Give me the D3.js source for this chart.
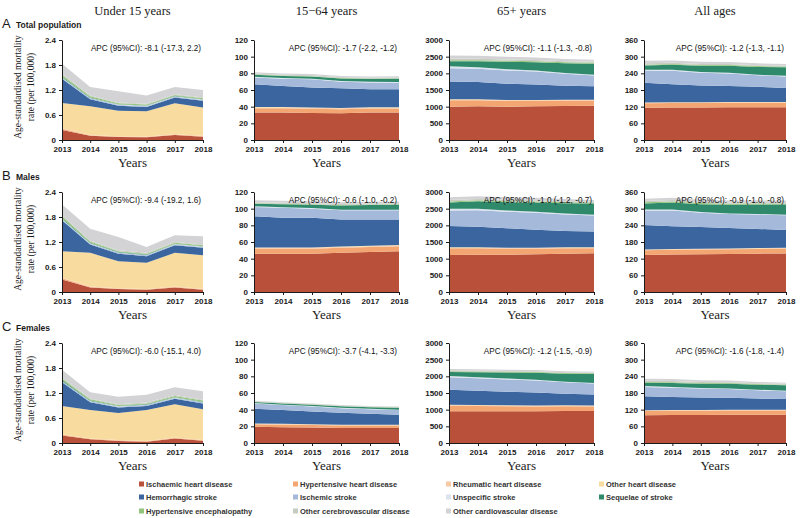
<!DOCTYPE html>
<html>
<head>
<meta charset="utf-8">
<script src="https://cdn.jsdelivr.net/npm/d3@7/dist/d3.min.js"></script>
<style>
    body { margin: 0; background: #fff; }
    svg { display: block; }
    .tick text { font-family: "Liberation Sans", Arial, sans-serif; font-weight: bold; font-size: 8px; fill: #1a1a1a; }
    .domain, .tick line { stroke: #1a1a1a; }
</style>
</head>
<body>
<div id="chart"></div>
<script>
// =============================================================================
// data
// =============================================================================
var years = [2013, 2014, 2015, 2016, 2017, 2018];

var categories = [
    "Ischaemic heart disease", "Hypertensive heart disease", "Rheumatic heart disease", "Other heart disease",
    "Hemorrhagic stroke", "Ischemic stroke", "Unspecific stroke", "Sequelae of stroke",
    "Hypertensive encephalopathy", "Other cerebrovascular disease", "Other cardiovascular disease"
];
var colors = [
    "#b8503a", "#f3a672", "#f7caa5", "#f8dc9f",
    "#3a659f", "#a5badb", "#dbe3ef", "#2f8a6c",
    "#93c47d", "#c6cdc0", "#d3d3d6"
];

var ageGroups = ["Under 15 years", "15\u221264 years", "65+ years", "All ages"];
var populations = ["Total population", "Males", "Females"];
var panelLetters = ["A", "B", "C"];

var yMax = [2.4, 120, 3000, 360];
var yTicks = [
    [0, 0.6, 1.2, 1.8, 2.4],
    [0, 20, 40, 60, 80, 100, 120],
    [0, 500, 1000, 1500, 2000, 2500, 3000],
    [0, 60, 120, 180, 240, 300, 360]
];

var apcLabels = [
    ["-8.1 (-17.3, 2.2)", "-1.7 (-2.2, -1.2)", "-1.1 (-1.3, -0.8)", "-1.2 (-1.3, -1.1)"],
    ["-9.4 (-19.2, 1.6)", "-0.6 (-1.0, -0.2)", "-1.0 (-1.2, -0.7)", "-0.9 (-1.0, -0.8)"],
    ["-6.0 (-15.1, 4.0)", "-3.7 (-4.1, -3.3)", "-1.2 (-1.5, -0.9)", "-1.6 (-1.8, -1.4)"]
];

// one array per category (same order as categories), values per year
var totalU15 = [
    [0.24, 0.10, 0.07, 0.065, 0.12, 0.08],
    [0.03, 0.01, 0.01, 0.01, 0.01, 0.01],
    [0.01, 0.01, 0.01, 0.01, 0.01, 0.01],
    [0.61, 0.69, 0.61, 0.605, 0.74, 0.68],
    [0.58, 0.17, 0.12, 0.10, 0.14, 0.16],
    [0.02, 0.02, 0.02, 0.02, 0.02, 0.02],
    [0.01, 0.01, 0.01, 0.01, 0.01, 0.01],
    [0.02, 0.01, 0.01, 0.01, 0.01, 0.01],
    [0.04, 0.03, 0.02, 0.02, 0.02, 0.02],
    [0.03, 0.02, 0.02, 0.02, 0.02, 0.02],
    [0.24, 0.20, 0.27, 0.20, 0.17, 0.18]
];
var total1564 = [
    [33, 33, 32.5, 32, 33, 33],
    [5, 5, 5, 5, 4.8, 4.8],
    [1, 1, 1, 1, 1, 1],
    [0.5, 0.5, 0.5, 0.5, 0.5, 0.5],
    [27.3, 25.3, 24, 23.5, 21.7, 21.5],
    [8.2, 8.8, 9.8, 8, 8, 8],
    [0.8, 0.8, 0.8, 0.8, 0.8, 0.8],
    [2.5, 2.5, 2.5, 3, 3.5, 4],
    [0.5, 0.5, 0.5, 0.5, 0.5, 0.5],
    [1, 1, 1, 1, 1, 1],
    [1.5, 1.5, 1.5, 1.5, 1.5, 1.5]
];
var total65 = [
    [1000, 1010, 1000, 1010, 1020, 1030],
    [190, 180, 170, 160, 160, 150],
    [20, 20, 20, 20, 20, 20],
    [10, 10, 10, 10, 10, 10],
    [538, 518, 488, 468, 418, 399],
    [397, 397, 397, 388, 358, 328],
    [60, 50, 40, 30, 25, 20],
    [150, 180, 220, 250, 290, 330],
    [30, 30, 30, 30, 30, 30],
    [50, 45, 40, 35, 32, 30],
    [90, 85, 80, 75, 70, 60]
];
var totalAll = [
    [116, 117, 117, 118, 118, 118],
    [16, 16, 16, 16, 16, 16],
    [2, 2, 2, 2, 2, 2],
    [1, 1, 1, 1, 1, 1],
    [71, 65, 60, 57, 55, 50],
    [42, 48, 46, 45, 41, 42],
    [5, 4, 3, 3, 2, 2],
    [15, 18, 22, 25, 28, 31],
    [3, 3, 3, 3, 3, 3],
    [5, 4, 4, 4, 3, 3],
    [9, 8, 8, 7, 7, 6]
];

var maleU15 = [
    [0.30, 0.11, 0.07, 0.055, 0.11, 0.055],
    [0.03, 0.01, 0.01, 0.01, 0.01, 0.01],
    [0.01, 0.01, 0.01, 0.01, 0.01, 0.01],
    [0.64, 0.81, 0.65, 0.625, 0.81, 0.805],
    [0.74, 0.20, 0.18, 0.16, 0.18, 0.18],
    [0.02, 0.02, 0.02, 0.02, 0.02, 0.02],
    [0.01, 0.01, 0.01, 0.01, 0.01, 0.01],
    [0.02, 0.01, 0.01, 0.01, 0.01, 0.01],
    [0.05, 0.03, 0.02, 0.02, 0.02, 0.02],
    [0.03, 0.02, 0.02, 0.02, 0.02, 0.02],
    [0.25, 0.29, 0.32, 0.14, 0.16, 0.20]
];
var male1564 = [
    [46, 46, 46, 47, 48, 49],
    [6, 6, 6, 6, 6, 6],
    [1, 1, 1, 1, 1, 1],
    [0.5, 0.5, 0.5, 0.5, 0.5, 0.5],
    [37.5, 35.5, 35.5, 32.5, 31.5, 30.5],
    [11, 12, 11, 11, 11, 11],
    [0.8, 0.8, 0.8, 0.8, 0.8, 0.8],
    [3, 3.5, 4, 5, 5.5, 6],
    [0.6, 0.6, 0.6, 0.6, 0.6, 0.6],
    [1.2, 1.2, 1.2, 1.2, 1.2, 1.2],
    [2.5, 2.5, 2.3, 2.2, 2.2, 2]
];
var male65 = [
    [1110, 1120, 1120, 1130, 1150, 1160],
    [200, 190, 180, 170, 160, 150],
    [20, 20, 20, 20, 20, 20],
    [10, 10, 10, 10, 10, 10],
    [640, 620, 581, 541, 492, 472],
    [466, 495, 495, 505, 495, 485],
    [50, 45, 40, 30, 25, 20],
    [190, 220, 250, 280, 310, 336],
    [30, 30, 30, 30, 30, 30],
    [45, 42, 40, 36, 33, 30],
    [80, 78, 75, 72, 65, 50]
];
var maleAll = [
    [133, 135, 136, 137, 138, 139],
    [17, 17, 17, 17, 17, 17],
    [2, 2, 2, 2, 2, 2],
    [1, 1, 1, 1, 1, 1],
    [88, 82, 78, 73, 69, 64],
    [52, 56, 51, 51, 52, 53],
    [4, 4, 3, 2, 2, 2],
    [22, 25, 28, 31, 34, 37],
    [4, 4, 4, 4, 4, 4],
    [5, 5, 5, 4, 4, 4],
    [8, 8, 7, 7, 7, 6]
];

var femaleU15 = [
    [0.18, 0.09, 0.05, 0.03, 0.11, 0.055],
    [0.02, 0.01, 0.01, 0.01, 0.01, 0.01],
    [0.01, 0.01, 0.01, 0.01, 0.01, 0.01],
    [0.68, 0.68, 0.65, 0.74, 0.80, 0.735],
    [0.57, 0.19, 0.13, 0.10, 0.13, 0.14],
    [0.02, 0.02, 0.02, 0.02, 0.02, 0.02],
    [0.01, 0.01, 0.01, 0.01, 0.01, 0.01],
    [0.02, 0.01, 0.01, 0.01, 0.01, 0.01],
    [0.04, 0.03, 0.02, 0.02, 0.03, 0.03],
    [0.03, 0.02, 0.02, 0.02, 0.02, 0.02],
    [0.18, 0.15, 0.18, 0.19, 0.19, 0.20]
];
var female1564 = [
    [19.5, 19, 18.5, 18, 18, 18],
    [3, 3, 3, 3, 3, 3],
    [0.7, 0.7, 0.7, 0.7, 0.7, 0.7],
    [0.3, 0.3, 0.3, 0.3, 0.3, 0.3],
    [17.5, 16.5, 15.4, 14.2, 13, 11.8],
    [6.5, 6, 6, 5.5, 5.5, 5.7],
    [0.5, 0.5, 0.5, 0.5, 0.5, 0.5],
    [1.2, 1.4, 1.6, 1.8, 2, 2.3],
    [0.3, 0.3, 0.3, 0.3, 0.3, 0.3],
    [0.5, 0.5, 0.5, 0.5, 0.5, 0.5],
    [0.7, 0.7, 0.7, 0.7, 0.7, 0.7]
];
var female65 = [
    [950, 950, 950, 950, 960, 960],
    [170, 160, 150, 145, 140, 135],
    [20, 20, 20, 20, 20, 20],
    [10, 10, 10, 10, 10, 10],
    [450, 430, 410, 390, 350, 330],
    [370, 370, 365, 360, 340, 330],
    [40, 35, 30, 25, 20, 15],
    [120, 150, 180, 210, 240, 270],
    [20, 20, 20, 20, 20, 20],
    [30, 28, 26, 24, 22, 20],
    [40, 38, 36, 34, 32, 30]
];
var femaleAll = [
    [100, 101, 101, 102, 102, 102],
    [15, 15, 15, 15, 15, 15],
    [2, 2, 2, 2, 2, 2],
    [1, 1, 1, 1, 1, 1],
    [50, 47, 45, 43, 40, 38],
    [34, 33, 32, 31, 30, 28],
    [3, 3, 2, 2, 2, 2],
    [12, 14, 15, 17, 18, 20],
    [3, 3, 3, 3, 2, 2],
    [4, 4, 4, 3, 3, 3],
    [7, 7, 6, 6, 5, 4]
];

var panelData = [
    [totalU15, total1564, total65, totalAll],
    [maleU15, male1564, male65, maleAll],
    [femaleU15, female1564, female65, femaleAll]
];

// =============================================================================
// layout
// =============================================================================
var width = 800, height = 518;
var colLeft = [62, 254, 449, 644];
var colRight = [203, 399, 594, 786];
var rowTop = [40, 192, 343];
var rowBottom = [140, 292, 443];

var serif = '"Liberation Serif", "Times New Roman", serif';
var sans = '"Liberation Sans", Arial, sans-serif';

var svg = d3.select("#chart").append("svg")
    .attr("width", width)
    .attr("height", height);

// column titles
svg.selectAll("text.colTitle")
    .data(ageGroups)
    .enter().append("text")
    .attr("class", "colTitle")
    .attr("x", function (d, i) { return (colLeft[i] + colRight[i]) / 2; })
    .attr("y", 15)
    .attr("text-anchor", "middle")
    .style("font-family", serif)
    .style("font-size", "12.5px")
    .style("fill", "#1a1a1a")
    .text(function (d) { return d; });

var stack = d3.stack().keys(d3.range(categories.length));

// =============================================================================
// panels
// =============================================================================
panelData.forEach(function (rowData, r) {

    // panel letter and population label
    svg.append("text")
        .attr("x", 2)
        .attr("y", rowTop[r] - 12)
        .style("font-family", sans)
        .style("font-size", "13px")
        .style("fill", "#1a1a1a")
        .text(panelLetters[r]);
    svg.append("text")
        .attr("x", 16)
        .attr("y", rowTop[r] - 12)
        .style("font-family", sans)
        .style("font-weight", "bold")
        .style("font-size", "8.5px")
        .style("fill", "#1a1a1a")
        .text(populations[r]);

    // y axis title (first column only)
    var yMid = (rowTop[r] + rowBottom[r]) / 2 - 3;
    var yTitle = svg.append("text")
        .attr("transform", "translate(18," + yMid + ") rotate(-90)")
        .attr("text-anchor", "middle")
        .style("font-family", serif)
        .style("font-size", "9.5px")
        .style("fill", "#1a1a1a");
    yTitle.append("tspan").attr("x", 0).attr("dy", "0.35em").text("Age-standardised mortality");
    yTitle.append("tspan").attr("x", 0).attr("dy", "13").text("rate (per 100,000)");

    rowData.forEach(function (series, c) {

        var table = years.map(function (yr, i) {
            var row = { year: yr };
            series.forEach(function (s, k) { row[k] = s[i]; });
            return row;
        });

        var x = d3.scaleLinear()
            .domain([years[0], years[years.length - 1]])
            .range([colLeft[c], colRight[c]]);
        var y = d3.scaleLinear()
            .domain([0, yMax[c]])
            .range([rowBottom[r], rowTop[r]]);

        var area = d3.area()
            .x(function (d) { return x(d.data.year); })
            .y0(function (d) { return y(d[0]); })
            .y1(function (d) { return y(d[1]); });

        var g = svg.append("g").attr("class", "panel");

        g.selectAll("path.layer")
            .data(stack(table))
            .enter().append("path")
            .attr("class", "layer")
            .attr("fill", function (d) { return colors[d.key]; })
            .attr("d", area);

        // axes
        g.append("g")
            .attr("transform", "translate(0," + rowBottom[r] + ")")
            .call(d3.axisBottom(x).tickValues(years).tickFormat(d3.format("d"))
                .tickSize(3).tickSizeOuter(0).tickPadding(3));
        g.append("g")
            .attr("transform", "translate(" + colLeft[c] + ",0)")
            .call(d3.axisLeft(y).tickValues(yTicks[c]).tickFormat(function (d) { return d; })
                .tickSize(3).tickSizeOuter(0).tickPadding(3));

        // APC label
        g.append("text")
            .attr("x", colRight[c] - 2)
            .attr("y", rowTop[r] + 11)
            .attr("text-anchor", "end")
            .style("font-family", sans)
            .style("font-size", "8.2px")
            .style("fill", "#111")
            .text("APC (95%CI): " + apcLabels[r][c]);

        // x axis title
        g.append("text")
            .attr("x", (colLeft[c] + colRight[c]) / 2)
            .attr("y", rowBottom[r] + 27)
            .attr("text-anchor", "middle")
            .style("font-family", serif)
            .style("font-size", "13px")
            .style("fill", "#1a1a1a")
            .text("Years");
    });
});

// =============================================================================
// legend
// =============================================================================
var legendX = [139, 293, 446, 599];
var legendY = [484, 497, 511];

var legend = svg.selectAll("g.legendItem")
    .data(categories)
    .enter().append("g")
    .attr("class", "legendItem")
    .attr("transform", function (d, i) {
        return "translate(" + legendX[i % 4] + "," + legendY[Math.floor(i / 4)] + ")";
    });

legend.append("rect")
    .attr("x", 0)
    .attr("y", -2.5)
    .attr("width", 5)
    .attr("height", 5)
    .attr("fill", function (d, i) { return colors[i]; });

legend.append("text")
    .attr("x", 7)
    .attr("y", 0)
    .attr("dy", "0.35em")
    .style("font-family", sans)
    .style("font-weight", "bold")
    .style("font-size", "7.5px")
    .style("fill", "#333")
    .text(function (d) { return d; });
</script>
</body>
</html>
